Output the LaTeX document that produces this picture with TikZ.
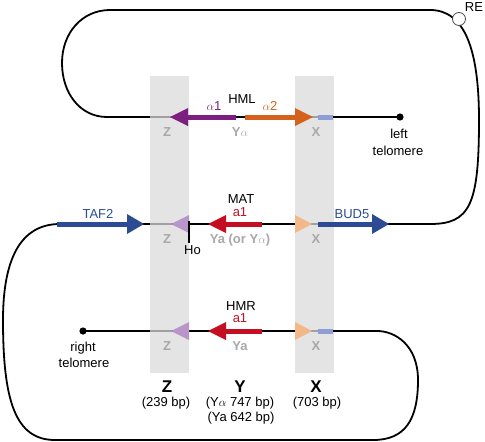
\documentclass[tikz,border=0pt]{standalone}
\usepackage{fontspec}
\setmainfont{Liberation Sans}
\definecolor{cpurple}{HTML}{7D1F80}
\definecolor{corange}{HTML}{D5621C}
\definecolor{cred}{HTML}{C40F23}
\definecolor{cblue}{HTML}{2C4B94}
\definecolor{clav}{HTML}{B896CA}
\definecolor{cpeach}{HTML}{F2B88A}
\definecolor{cseg}{HTML}{8E9ED4}
\definecolor{cband}{HTML}{E4E4E4}
\definecolor{ctext}{HTML}{A8A8A8}
\definecolor{cline}{HTML}{A0A0A0}
\begin{document}
\begin{tikzpicture}[x=1pt,y=-1pt,
  chrom/.style={line width=1.8pt, draw=black},
  gline/.style={line width=1.8pt, draw=cline},
  shaft/.style={line width=5pt},
  band/.style={fill=cband},
  lbl/.style={font=\fontsize{13}{15}\selectfont, inner sep=0pt, anchor=base},
  tight/.style={text depth=0pt},
  glbl/.style={lbl, text=ctext, font=\fontsize{13}{15}\selectfont\bfseries},
  big/.style={lbl, font=\fontsize{17}{19}\selectfont\bfseries},
  telo/.style={fill=black}
]
\useasboundingbox (0,0) rectangle (485,442);
% bands
\fill[band] (150,76) rectangle (189,373);
\fill[band] (295,76) rectangle (334,373);
% chromosome
\draw[chrom] (400,117) -- (107,117) .. controls (80,117) and (62,93) .. (62,63)
  .. controls (62,33) and (82,10) .. (110,10) -- (430,10)
  .. controls (465,10) and (479,50) .. (479,120)
  .. controls (479,205) and (470,224) .. (430,224) -- (380,224);
\draw[chrom] (140,224) -- (300,224);
\draw[chrom] (60,224) .. controls (20,224) and (3,260) .. (3,320)
  .. controls (3,400) and (15,440) .. (55,440) -- (373,440)
  .. controls (405,440) and (418,420) .. (418,380)
  .. controls (418,345) and (395,331) .. (377,331) -- (83,331);
% gray parts in bands
\foreach \yy in {117,224,331}{
  \draw[gline] (150,\yy) -- (172,\yy);
  \draw[gline] (308,\yy) -- (320,\yy);
}
% HML
\draw[shaft, cpurple] (236,117) -- (186,117);
\fill[cpurple] (170,117) -- (188,108) -- (188,126) -- cycle;
\draw[shaft, corange] (245,117) -- (297,117);
\fill[corange] (313,117) -- (295,108) -- (295,126) -- cycle;
\draw[shaft, cseg] (318,117) -- (333,117);
% MAT
\draw[shaft, cblue] (57,224) -- (129,224);
\fill[cblue] (144,224) -- (127,214) -- (127,234) -- cycle;
\fill[clav] (171,224) -- (189,215) -- (189,233) -- cycle;
\draw[line width=1.5pt] (189,221) -- (189,243);
\draw[shaft, cred] (262,224) -- (224,224);
\fill[cred] (208,224) -- (226,215) -- (226,233) -- cycle;
\fill[cpeach] (312,224) -- (295,215) -- (295,233) -- cycle;
\draw[shaft, cblue] (318,224) -- (374,224);
\fill[cblue] (389,224) -- (372,214) -- (372,234) -- cycle;
% HMR
\fill[clav] (171,331) -- (189,322) -- (189,340) -- cycle;
\draw[shaft, cred] (262,331) -- (224,331);
\fill[cred] (208,331) -- (226,322) -- (226,340) -- cycle;
\fill[cpeach] (312,331) -- (295,322) -- (295,340) -- cycle;
\draw[shaft, cseg] (318,331) -- (333,331);
% telomeres
\fill[telo] (400,117) circle (3.6);
\fill[telo] (83,331) circle (3.6);
% RE
\draw[line width=0.8pt, draw=black!70, fill=white] (459,19) circle (6.5);
\node[lbl] (re) at (474,11) {RE};
% HML labels
\node[lbl, tight] (hml) at (242,103) {HML};
\node[lbl, text=cpurple] (a1l) at (214,110) {$\alpha$1};
\node[lbl, text=corange] (a2l) at (270,110) {$\alpha$2};
\node[glbl] (yal) at (240,136) {Y$\alpha$};
\node[glbl] (zl) at (167,136) {Z};
\node[glbl] (xl) at (316,136) {X};
\node[lbl] (left) at (399,138) {left};
\node[lbl] (ltelo) at (398,155) {telomere};
% MAT labels
\node[lbl, tight] (mat) at (241,203) {MAT};
\node[lbl, text=cred] (a1m) at (240,216.5) {a1};
\node[glbl] (yam) at (240,243) {Ya (or Y$\alpha$)};
\node[glbl] (zm) at (167,243) {Z};
\node[glbl] (xm) at (316,243) {X};
\node[lbl, text=cblue] (taf) at (98,218) {TAF2};
\node[lbl, text=cblue] (bud) at (352,218) {BUD5};
\node[lbl] (ho) at (192.5,254) {Ho};
% HMR labels
\node[lbl, tight] (hmr) at (241,310) {HMR};
\node[lbl, text=cred] (a1r) at (240,322.5) {a1};
\node[glbl] (yar) at (240,350) {Ya};
\node[glbl] (zr) at (167,350) {Z};
\node[glbl] (xr) at (316,350) {X};
\node[lbl] (right) at (83,351) {right};
\node[lbl] (rtelo) at (84,367) {telomere};
% bottom labels
\node[big] (bz) at (167,392) {Z};
\node[big] (by) at (240,392) {Y};
\node[big] (bx) at (316,392) {X};
\node[lbl] (zbp) at (166,406) {(239 bp)};
\node[lbl] (ybp) at (240,406) {(Y$\alpha$ 747 bp)};
\node[lbl] (ybp2) at (241,421) {(Ya 642 bp)};
\node[lbl] (xbp) at (317,406) {(703 bp)};
\end{tikzpicture}
\end{document}
